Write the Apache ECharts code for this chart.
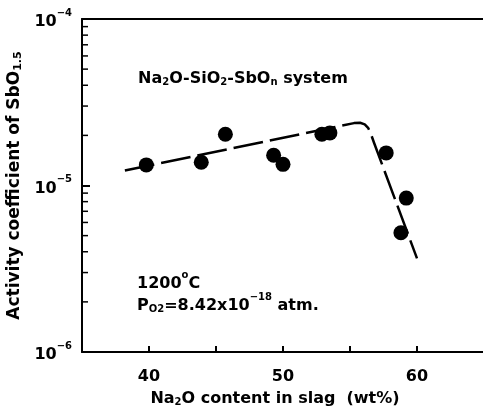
<!DOCTYPE html>
<html>
<head>
<meta charset="utf-8">
<script src="https://cdn.jsdelivr.net/npm/echarts@6/dist/echarts.min.js"></script>
<style>
  html, body { margin: 0; padding: 0; background: #fff; }
  #chart { width: 483px; height: 408px; }
</style>
</head>
<body>
<div id="chart"></div>
<script>
// Measured activity coefficients of SbO1.5 versus Na2O content (wt%)
const na2oContent = [39.8, 43.9, 45.7, 49.3, 50.0, 52.9, 53.5, 57.7, 59.2, 58.8];
const activityCoef = [1.33e-5, 1.38e-5, 2.03e-5, 1.52e-5, 1.34e-5, 2.03e-5, 2.07e-5, 1.57e-5, 8.4e-6, 5.2e-6];

// Trend drawn through the data (gentle rise, rounded knee, steep drop)
const trendX = [38.2, 55.3, 55.75, 56.1, 56.35, 56.55, 56.8, 60.0];
const trendY = [1.23e-5, 2.37e-5, 2.38e-5, 2.33e-5, 2.22e-5, 2.05e-5, 1.80e-5, 3.65e-6];

// Axis ticks
const xMajorTicks = [40, 50, 60];
const xMinorTicks = [45, 55];
const yMinorTicks = [];
[1e-6, 1e-5].forEach(d => { for (let m = 2; m <= 9; m++) yMinorTicks.push(m * d); });

const FONT = 'DejaVu Sans';
const chart = echarts.init(document.getElementById('chart'));

const supRich = {
  b: { fontFamily: FONT, fontSize: 16, fontWeight: 'bold', color: '#000', lineHeight: 22, verticalAlign: 'bottom' },
  s: { fontFamily: FONT, fontSize: 10, color: '#000', lineHeight: 22, verticalAlign: 'top', fontWeight: 'bold' },
  u: { fontFamily: FONT, fontSize: 10, color: '#000', lineHeight: 22, verticalAlign: 'bottom', fontWeight: 'bold' }
};
const titleRich = {
  b: Object.assign({}, supRich.b, { fontSize: 17 }),
  u: Object.assign({}, supRich.u, { fontSize: 11 })
};

chart.setOption({
  animation: false,
  backgroundColor: '#fff',
  grid: { left: 82, right: -1, top: 19, bottom: 56, outerBoundsMode: 'none' },
  xAxis: [{
    type: 'value', min: 35, max: 65, interval: 5,
    axisLine: { lineStyle: { color: '#000', width: 2 } },
    axisTick: { inside: true, length: 6, lineStyle: { color: '#000', width: 2 } },
    splitLine: { show: false },
    axisLabel: {
      margin: 17, fontFamily: FONT, fontSize: 16, fontWeight: 'bold', color: '#000',
      formatter: v => xMajorTicks.includes(v) ? String(v) : ''
    },
    name: '{b|Na}{u|2}{b|O content in slag  (wt%)}',
    nameLocation: 'middle', nameGap: 33,
    nameTextStyle: { rich: supRich, padding: [0, 16, 0, 0] }
  }, {
    type: 'value', min: 35, max: 65, position: 'top',
    axisLine: { lineStyle: { color: '#000', width: 2 } },
    axisTick: { show: false }, axisLabel: { show: false }, splitLine: { show: false }
  }],
  yAxis: {
    type: 'log', logBase: 10, min: 1e-6, max: 1e-4,
    axisLine: { lineStyle: { color: '#000', width: 2 } },
    axisTick: { inside: true, length: 8, lineStyle: { color: '#000', width: 2 } },
    splitLine: { show: false },
    axisLabel: {
      margin: 10,
      formatter: v => '{b|10}{s|' + String(Math.round(Math.log10(v))).replace('-', '−') + '}',
      rich: supRich
    },
    name: '{b|Activity coefficient of SbO}{u|1.5}',
    nameLocation: 'middle', nameGap: 52, nameRotate: 90,
    nameTextStyle: { rich: titleRich }
  },
  series: [{
    type: 'line',
    data: trendX.map((x, i) => [x, trendY[i]]),
    smooth: false, symbol: 'none',
    lineStyle: { color: '#000', width: 2.5, type: [30, 7], join: 'round' },
    z: 1
  }, {
    type: 'scatter',
    data: na2oContent.map((x, i) => [x, activityCoef[i]]),
    symbol: 'circle', symbolSize: 15,
    itemStyle: { color: '#000', opacity: 1 },
    z: 3
  }, {
    // minor ticks on the log axis (2..9 per decade) and the minor x ticks
    type: 'custom',
    renderItem: (params, api) => {
      const isX = api.value(2) === 1;
      if (isX) {
        const p = api.coord([api.value(0), 1e-6]);
        return { type: 'line', shape: { x1: p[0], y1: p[1], x2: p[0], y2: p[1] - 4 },
                 style: { stroke: '#000', lineWidth: 2 } };
      }
      const p = api.coord([35, api.value(1)]);
      return { type: 'line', shape: { x1: p[0], y1: p[1], x2: p[0] + 6, y2: p[1] },
               style: { stroke: '#000', lineWidth: 1.5 } };
    },
    data: yMinorTicks.map(v => [35, v, 0]).concat(xMinorTicks.map(x => [x, 1e-6, 1])),
    silent: true, z: 2
  }],
  graphic: [{
    type: 'text', left: 138, top: 71,
    style: {
      text: '{b|Na}{u|2}{b|O-SiO}{u|2}{b|-SbO}{u|n}{b| system}',
      rich: supRich
    }
  }, {
    type: 'text', left: 137, top: 270,
    style: { text: '{b|1200}{s|o}{b|C}', rich: supRich }
  }, {
    type: 'text', left: 137, top: 292,
    style: { text: '{b|P}{u|O2}{b|=8.42x10}{s|−18}{b| atm.}', rich: supRich }
  }]
});
</script>
</body>
</html>
